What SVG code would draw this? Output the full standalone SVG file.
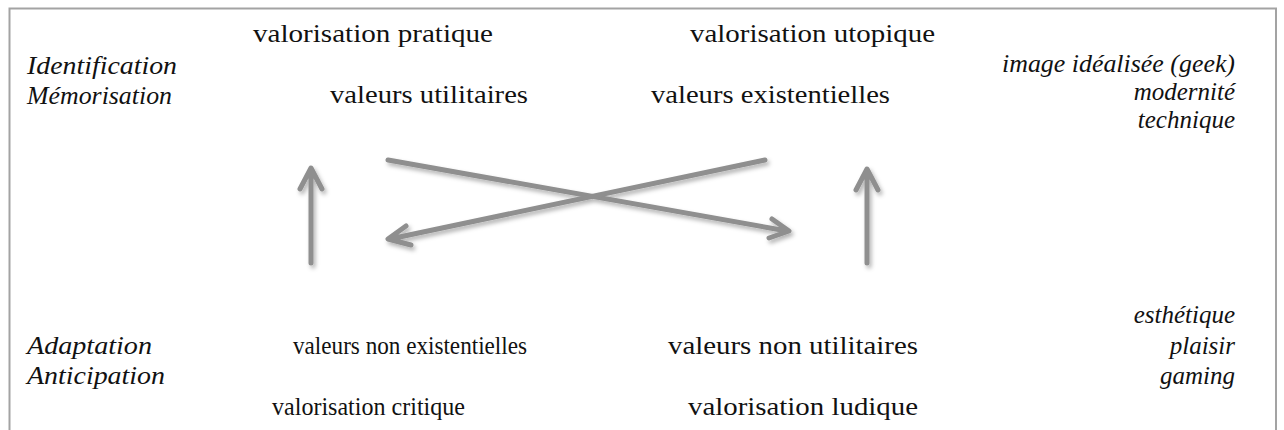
<svg xmlns="http://www.w3.org/2000/svg" width="1284" height="430" viewBox="0 0 1284 430">
  <defs>
    <filter id="shadow" x="-20%" y="-20%" width="140%" height="140%">
      <feDropShadow dx="2" dy="3" stdDeviation="2" flood-color="#000" flood-opacity="0.3"/>
    </filter>
  </defs>
  <style>
    .t { font-family: "Liberation Serif", "DejaVu Serif", serif; font-size: 25px; fill: #111; }
    .i { font-style: italic; }
    .r { text-anchor: end; }
    .arrow { fill: none; stroke: #8f8f8f; stroke-width: 5; stroke-linecap: round; stroke-linejoin: round; }
  </style>
  <rect width="1284" height="430" fill="#fff"/>
  <path d="M9.5,430 V8.5 H1276 V430" fill="none" stroke="#a3a3a3" stroke-width="2"/>

  <g id="left-labels">
    <text class="t i" x="27" y="74" textLength="150" lengthAdjust="spacingAndGlyphs">Identification</text>
    <text class="t i" x="27" y="104" textLength="145" lengthAdjust="spacingAndGlyphs">Mémorisation</text>
    <text class="t i" x="27" y="354" textLength="125" lengthAdjust="spacingAndGlyphs">Adaptation</text>
    <text class="t i" x="27" y="384" textLength="138" lengthAdjust="spacingAndGlyphs">Anticipation</text>
  </g>
  <g id="right-labels">
    <text class="t i" x="1002" y="72" textLength="233" lengthAdjust="spacingAndGlyphs">image idéalisée (geek)</text>
    <text class="t i r" x="1235" y="100">modernité</text>
    <text class="t i r" x="1235" y="128">technique</text>
    <text class="t i r" x="1235" y="323">esthétique</text>
    <text class="t i r" x="1235" y="354">plaisir</text>
    <text class="t i r" x="1235" y="384">gaming</text>
  </g>
  <g id="node-pratique">
    <text class="t" x="253" y="42" textLength="240" lengthAdjust="spacingAndGlyphs">valorisation pratique</text>
    <text class="t" x="330" y="103" textLength="198" lengthAdjust="spacingAndGlyphs">valeurs utilitaires</text>
  </g>
  <g id="node-utopique">
    <text class="t" x="690" y="42" textLength="245" lengthAdjust="spacingAndGlyphs">valorisation utopique</text>
    <text class="t" x="651" y="103" textLength="239" lengthAdjust="spacingAndGlyphs">valeurs existentielles</text>
  </g>
  <g id="node-critique">
    <text class="t" x="293" y="354" textLength="234" lengthAdjust="spacingAndGlyphs">valeurs non existentielles</text>
    <text class="t" x="272" y="415" textLength="193" lengthAdjust="spacingAndGlyphs">valorisation critique</text>
  </g>
  <g id="node-ludique">
    <text class="t" x="668" y="354" textLength="250" lengthAdjust="spacingAndGlyphs">valeurs non utilitaires</text>
    <text class="t" x="688" y="415" textLength="230" lengthAdjust="spacingAndGlyphs">valorisation ludique</text>
  </g>

  <g id="connectors" filter="url(#shadow)">
    <path class="arrow" d="M311,263 V170 M300,189 L311,168 L322,189"/>
    <path class="arrow" d="M867,263 V171 M856,190 L867,169 L878,190"/>
    <path class="arrow" d="M388,160 L787,231 M772,219 L789,231 L769,238"/>
    <path class="arrow" d="M765,160 L390,239 M406,226 L388,239 L411,245"/>
  </g>
</svg>
